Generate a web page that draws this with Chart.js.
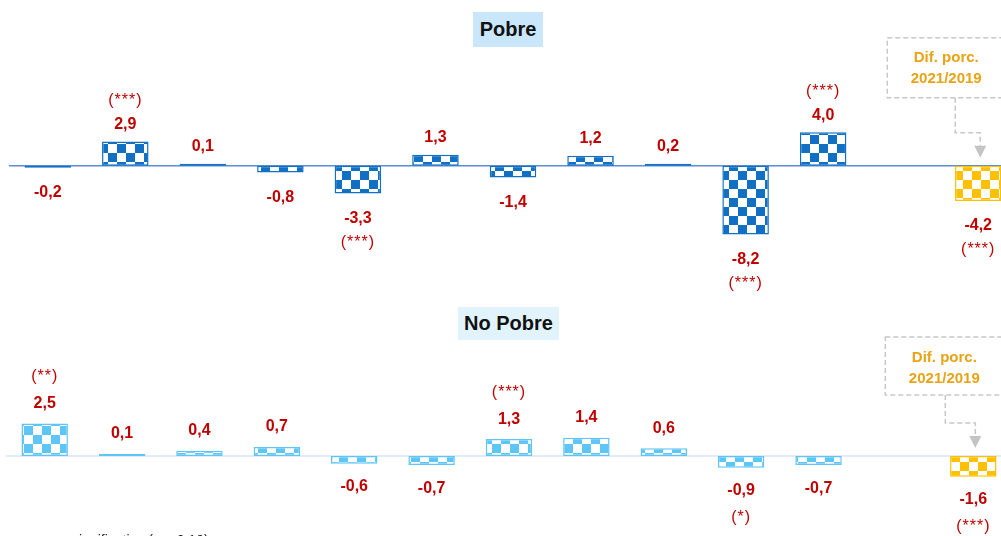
<!DOCTYPE html>
<html lang="es">
<head>
<meta charset="UTF-8">
<title>Pobre / No Pobre</title>
<script src="https://cdn.jsdelivr.net/npm/chart.js"></script>
<style>
  body { margin:0; width:1001px; height:536px; overflow:hidden; background:#fff; position:relative;
         font-family:'Liberation Sans', Arial, sans-serif; }
  .panel { position:absolute; }
  #topWrap { left:9px; top:0; }
  #botWrap { left:6px; top:300px; }
  .tag { position:absolute; font-weight:bold; font-size:20px; color:#111; text-align:center; }
  #tagTop { left:473px; top:12px; width:70px; height:35px; line-height:35px; background:#C9E6FB; }
  #tagBot { left:458px; top:307px; width:101px; height:33px; line-height:33px; background:#E1F3FD; }
  #note { position:absolute; left:30px; top:532px; font-size:14px; color:#222; white-space:nowrap; }
</style>
</head>
<body>
<div class="panel" id="topWrap"><canvas id="chartPobre" width="1008" height="300"></canvas></div>
<div class="panel" id="botWrap"><canvas id="chartNoPobre" width="1006" height="236"></canvas></div>
<div class="tag" id="tagTop">Pobre</div>
<div class="tag" id="tagBot">No Pobre</div>
<div id="note">ns: no significativo (p &gt; 0,10)</div>

<script>
// categories (no visible axis labels in the original); index 11 is an empty slot
const categories = ['1','2','3','4','5','6','7','8','9','10','11','','Dif. porc. 2021/2019'];

const pobreValues   = [-0.2, 2.9, 0.1, -0.8, -3.3, 1.3, -1.4, 1.2, 0.2, -8.2, 4.0, null, -4.2];
const pobreSig      = ['', '(***)', '', '', '(***)', '', '', '', '', '(***)', '(***)', '', '(***)'];

const noPobreValues = [2.5, 0.1, 0.4, 0.7, -0.6, -0.7, 1.3, 1.4, 0.6, -0.9, -0.7, null, -1.6];
const noPobreSig    = ['(**)', '', '', '', '', '', '(***)', '', '', '(*)', '', '', '(***)'];

const RED = '#C00000';
const GOLD = '#FFC000';
const FONT = "'Liberation Sans', Arial, sans-serif";

function checker(color, size) {
  const c = document.createElement('canvas');
  c.width = c.height = size * 2;
  const g = c.getContext('2d');
  g.fillStyle = '#fff';
  g.fillRect(0, 0, size * 2, size * 2);
  g.fillStyle = color;
  g.fillRect(0, 0, size, size);
  g.fillRect(size, size, size, size);
  return g.createPattern(c, 'repeat');
}

const barLabels = {
  id: 'barLabels',
  beforeDatasetsDraw(chart, args, opts) {
    const { ctx, chartArea, scales } = chart;
    const y0 = scales.y.getPixelForValue(0);
    ctx.save();
    ctx.strokeStyle = opts.axisColor;
    ctx.lineWidth = 1.5;
    ctx.beginPath();
    ctx.moveTo(chartArea.left, y0);
    ctx.lineTo(chartArea.right, y0);
    ctx.stroke();
    ctx.restore();
  },
  afterDatasetsDraw(chart, args, opts) {
    const ctx = chart.ctx;
    const meta = chart.getDatasetMeta(0);
    const vals = chart.data.datasets[0].data;
    ctx.save();
    ctx.textAlign = 'center';
    ctx.textBaseline = 'middle';
    ctx.fillStyle = RED;
    meta.data.forEach((bar, i) => {
      const v = vals[i];
      if (v === null) return;
      const dir = v >= 0 ? -1 : 1;
      const off = v >= 0 ? opts.posOff : opts.negOff;
      const end = v >= 0 ? Math.min(bar.y, bar.base) : Math.max(bar.y, bar.base);
      ctx.font = 'bold 16px ' + FONT;
      ctx.fillText(v.toFixed(1).replace('.', ','), bar.x, end + dir * off);
      if (opts.sig[i]) {
        ctx.font = '16px ' + FONT;
        ctx.letterSpacing = '1px';
        ctx.fillText(opts.sig[i], bar.x, end + dir * (off + opts.sigGap));
        ctx.letterSpacing = '0px';
      }
    });

    // "Dif. porc." callout pointing at the last bar
    const a = opts.note;
    const gold = meta.data[meta.data.length - 1];
    const gx = gold.x;
    const y0 = chart.scales.y.getPixelForValue(0);
    ctx.strokeStyle = '#C8C8C8';
    ctx.lineWidth = 1.5;
    ctx.setLineDash([5, 3]);
    ctx.strokeRect(gx + a.boxLeft, y0 + a.boxTop, 200, a.boxBottom - a.boxTop);
    ctx.beginPath();
    ctx.moveTo(gx + a.lineX, y0 + a.boxBottom);
    ctx.lineTo(gx + a.lineX, y0 - 33);
    ctx.lineTo(gx + 2, y0 - 33);
    ctx.lineTo(gx + 2, y0 - 20);
    ctx.stroke();
    ctx.setLineDash([]);
    ctx.fillStyle = '#C4C4C4';
    ctx.beginPath();
    ctx.moveTo(gx - 4, y0 - 20);
    ctx.lineTo(gx + 8, y0 - 20);
    ctx.lineTo(gx + 2, y0 - 8);
    ctx.closePath();
    ctx.fill();
    ctx.fillStyle = '#E8A317';
    ctx.font = 'bold 15px ' + FONT;
    ctx.fillText('Dif. porc.', gx + a.textX, y0 + a.line1);
    ctx.fillText('2021/2019', gx + a.textX, y0 + a.line1 + 21);
    ctx.restore();
  }
};

function makeChart(id, values, sig, color, axisColor, yMin, yMax, offs, note) {
  const pat = checker(color, 9);
  const goldPat = checker(GOLD, 9);
  const fills = values.map((v, i) => i === values.length - 1 ? goldPat : pat);
  const borders = values.map((v, i) => i === values.length - 1 ? GOLD : color);
  return new Chart(document.getElementById(id), {
    type: 'bar',
    data: {
      labels: categories,
      datasets: [{
        data: values,
        backgroundColor: fills,
        borderColor: borders,
        borderWidth: 1.5,
        borderSkipped: false,
        minBarLength: 2,
        barPercentage: 0.6,
        categoryPercentage: 1
      }]
    },
    options: {
      responsive: false,
      animation: false,
      layout: { padding: 0 },
      scales: {
        x: { display: false },
        y: { display: false, min: yMin, max: yMax }
      },
      plugins: {
        legend: { display: false },
        tooltip: { enabled: false },
        barLabels: { sig: sig, axisColor: axisColor, posOff: offs[0], negOff: offs[1], sigGap: offs[2], note: note }
      }
    },
    plugins: [barLabels]
  });
}

makeChart('chartPobre', pobreValues, pobreSig, '#1170C4', '#5B8ED6', -16, 19.76, [17, 25, 24],
  { boxLeft: -91, boxTop: -128, boxBottom: -68, lineX: -23, textX: -32, line1: -108 });
makeChart('chartNoPobre', noPobreValues, noPobreSig, '#5EC5F7', '#D6E6F5', -6.154, 12, [20, 23, 27],
  { boxLeft: -88, boxTop: -119, boxBottom: -61, lineX: -28, textX: -29, line1: -98 });
</script>
</body>
</html>
